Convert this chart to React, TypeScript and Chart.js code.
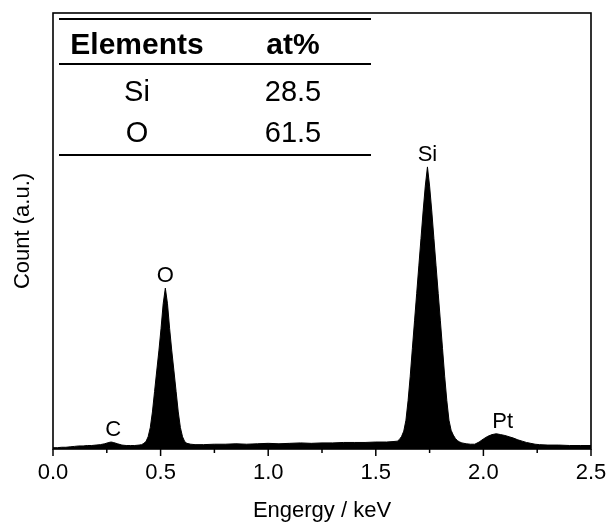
import React, { useEffect, useRef } from "react";
import { Chart, registerables } from "chart.js";

Chart.register(...registerables);

// Energy (keV) and counts (a.u.)
const energy: number[] = [
  0.0, 0.02, 0.04, 0.06, 0.08, 0.1, 0.12, 0.14, 0.16, 0.18, 0.2, 0.22, 0.24, 0.26, 0.27, 0.28, 0.3, 0.32, 0.34, 0.36,
  0.38, 0.4, 0.412, 0.422, 0.432, 0.442, 0.452, 0.462, 0.472, 0.482, 0.492, 0.502, 0.512, 0.522, 0.532, 0.542, 0.552,
  0.562, 0.572, 0.582, 0.592, 0.602, 0.612, 0.622, 0.64, 0.66, 0.7, 0.75, 0.8, 0.85, 0.9, 0.95, 1.0, 1.05, 1.1, 1.15,
  1.2, 1.25, 1.3, 1.35, 1.4, 1.45, 1.5, 1.55, 1.58, 1.6, 1.61, 1.62, 1.63, 1.64, 1.65, 1.66, 1.67, 1.68, 1.69, 1.7,
  1.71, 1.72, 1.73, 1.74, 1.75, 1.76, 1.77, 1.78, 1.79, 1.8, 1.81, 1.82, 1.83, 1.84, 1.85, 1.86, 1.87, 1.88, 1.89,
  1.9, 1.92, 1.94, 1.96, 1.98, 2.0, 2.02, 2.04, 2.06, 2.08, 2.1, 2.12, 2.14, 2.16, 2.18, 2.2, 2.22, 2.24, 2.26, 2.3,
  2.35, 2.4, 2.45, 2.5,
];
const counts: number[] = [
  0.3, 0.3, 0.4, 0.4, 0.5, 0.6, 0.7, 0.7, 0.8, 0.8, 0.9, 1.0, 1.2, 1.5, 1.6, 1.5, 1.2, 0.9, 0.8, 0.8,
  0.8, 0.9, 1.0, 1.3, 1.7, 2.8, 4.9, 8.5, 13.2, 17.9, 22.5, 27.6, 33.3, 36.9, 33.3, 27.6, 22.5,
  17.9, 13.2, 8.5, 4.9, 2.8, 1.7, 1.3, 1.1, 1.0, 1.0, 1.1, 1.1, 1.2, 1.1, 1.2, 1.3, 1.2, 1.3, 1.4,
  1.3, 1.4, 1.4, 1.5, 1.5, 1.5, 1.6, 1.6, 1.7, 1.8, 2.2, 2.9, 4.1, 6.6, 11.1, 16.7, 23.1, 29.4, 35.7, 42.0,
  48.3, 54.6, 60.3, 64.7, 60.3, 54.6, 48.3, 42.0, 35.7, 29.4, 23.1, 16.7, 11.1, 6.6, 4.3, 3.2, 2.4, 1.9, 1.6,
  1.4, 1.2, 1.1, 1.1, 1.6, 2.3, 2.9, 3.3, 3.5, 3.3, 3.1, 2.8, 2.5, 2.1, 1.8, 1.5, 1.3, 1.1, 1.0, 0.9,
  0.9, 0.8, 0.8, 0.8,
];

const peakLabels: string[] = ["C", "O", "Si", "Pt"];
const peakLabelEnergy: number[] = [0.28, 0.522, 1.74, 2.09];

const tableHeader: string[] = ["Elements", "at%"];
const tableElements: string[] = ["Si", "O"];
const tableAtPercent: string[] = ["28.5", "61.5"];

const xTickMajor: number[] = [0, 0.5, 1.0, 1.5, 2.0, 2.5];
const xTickMinor: number[] = [0.25, 0.75, 1.25, 1.75, 2.25];

const FONT = "'Liberation Sans', Arial, Helvetica, sans-serif";

const decorPlugin = {
  id: "decor",
  afterDraw(chart: any) {
    const { ctx, chartArea, scales } = chart;
    const xs = scales.x;
    const ys = scales.y;
    ctx.save();
    // frame
    ctx.strokeStyle = "#000";
    ctx.lineWidth = 1.6;
    ctx.strokeRect(chartArea.left, chartArea.top, chartArea.right - chartArea.left, chartArea.bottom - chartArea.top);
    // ticks
    ctx.lineWidth = 1.5;
    xTickMajor.forEach((v) => {
      const px = xs.getPixelForValue(v);
      ctx.beginPath();
      ctx.moveTo(px, chartArea.bottom);
      ctx.lineTo(px, chartArea.bottom + 7);
      ctx.stroke();
    });
    xTickMinor.forEach((v) => {
      const px = xs.getPixelForValue(v);
      ctx.beginPath();
      ctx.moveTo(px, chartArea.bottom);
      ctx.lineTo(px, chartArea.bottom + 4);
      ctx.stroke();
    });
    // peak labels
    ctx.fillStyle = "#000";
    ctx.font = `22px ${FONT}`;
    ctx.textAlign = "center";
    ctx.textBaseline = "alphabetic";
    peakLabels.forEach((t, i) => {
      const e = peakLabelEnergy[i];
      let m = 0;
      energy.forEach((x, j) => {
        if (Math.abs(x - e) <= 0.04 && counts[j] > m) m = counts[j];
      });
      const px = xs.getPixelForValue(e);
      const py = ys.getPixelForValue(m);
      ctx.fillText(t, px, py - 6);
    });
    // table
    const left = chartArea.left + 6;
    const right = 371;
    ctx.lineWidth = 1.8;
    [19, 64, 155].forEach((y) => {
      ctx.beginPath();
      ctx.moveTo(left, y);
      ctx.lineTo(right, y);
      ctx.stroke();
    });
    const colX = [137, 293];
    ctx.font = `bold 30px ${FONT}`;
    tableHeader.forEach((h, i) => ctx.fillText(h, colX[i], 54));
    ctx.font = `29px ${FONT}`;
    const rowY = [101, 142];
    tableElements.forEach((el, r) => {
      ctx.fillText(el, colX[0], rowY[r]);
      ctx.fillText(tableAtPercent[r], colX[1], rowY[r]);
    });
    ctx.restore();
  },
};

export default function App() {
  const ref = useRef<HTMLCanvasElement | null>(null);
  useEffect(() => {
    if (!ref.current) return;
    const chart = new Chart(ref.current, {
      type: "line",
      data: {
        datasets: [
          {
            data: energy.map((x, i) => ({ x, y: counts[i] })),
            borderColor: "#000",
            backgroundColor: "#000",
            borderWidth: 1,
            pointRadius: 0,
            tension: 0,
            fill: "origin",
          },
        ],
      },
      options: {
        animation: false,
        responsive: false,
        layout: { padding: { top: 13, right: 20, left: 0, bottom: 0 } },
        plugins: { legend: { display: false }, tooltip: { enabled: false } },
        scales: {
          x: {
            type: "linear",
            min: 0,
            max: 2.5,
            afterFit: (s: any) => {
              s.height = 79;
              s.paddingLeft = 0;
              s.paddingRight = 0;
            },
            grid: { display: false, drawTicks: false },
            border: { display: false },
            ticks: {
              stepSize: 0.5,
              autoSkip: false,
              maxRotation: 0,
              padding: 11,
              color: "#000",
              font: { family: FONT, size: 22 },
              callback: (v: any) => Number(v).toFixed(1),
            },
            title: {
              display: true,
              text: "Engergy / keV",
              color: "#000",
              font: { family: FONT, size: 22 },
              padding: { top: 0, bottom: 4 },
            },
          },
          y: {
            min: 0,
            max: 100,
            afterFit: (s: any) => {
              s.width = 53;
            },
            grid: { display: false, drawTicks: false },
            border: { display: false },
            ticks: { display: false },
            title: {
              display: true,
              text: "Count (a.u.)",
              color: "#000",
              font: { family: FONT, size: 22 },
              padding: { top: 10, bottom: 0 },
            },
          },
        },
      },
      plugins: [decorPlugin],
    });
    return () => chart.destroy();
  }, []);
  return (
    <div style={{ position: "fixed", left: 0, top: 0, width: 611, height: 528, background: "#fff" }}>
      <canvas ref={ref} width={611} height={528} style={{ display: "block" }} />
    </div>
  );
}
